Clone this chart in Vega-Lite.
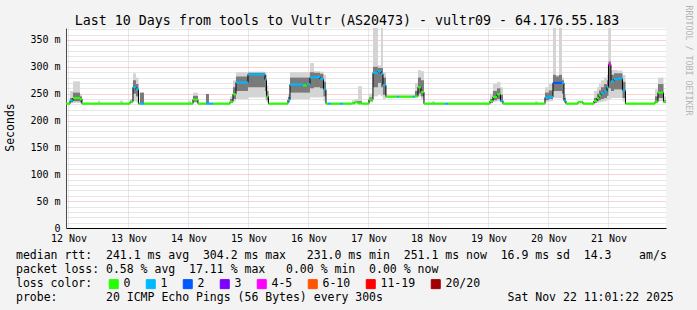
{
  "$schema": "https://vega.github.io/schema/vega-lite/v6.json",
  "width": 600,
  "height": 200,
  "autosize": "none",
  "padding": {"left": 66, "top": 28, "right": 31, "bottom": 82},
  "background": "#f3f3f3",
  "view": {"fill": "white", "stroke": null},
  "config": {"font": "DejaVu Sans Mono"},
  "title": {"text": "Last 10 Days from tools to Vultr (AS20473) - vultr09 - 64.176.55.183", "font": "DejaVu Sans Mono", "fontSize": 13.3, "fontWeight": "normal", "color": "#000000", "anchor": "middle", "dx": -19, "offset": -19, "dy": 14, "baseline": "alphabetic"},
  "data": {"values": [
    {"s":11.02,"e":12.6,"med":231.5,"lo":231,"hi":232.5,"q1":231,"q3":232,"loss":"0"},
    {"s":12.6,"e":13.8,"med":237,"lo":232,"hi":255,"q1":234,"q3":242,"loss":"1"},
    {"s":13.8,"e":16.6,"med":242,"lo":233,"hi":273,"q1":236,"q3":252,"loss":"0"},
    {"s":16.6,"e":17.4,"med":240,"lo":232,"hi":250,"q1":234,"q3":245,"loss":"0"},
    {"s":17.4,"e":23.8,"med":231.5,"lo":231,"hi":232.5,"q1":231,"q3":232,"loss":"0"},
    {"s":23.8,"e":24.6,"med":231.5,"lo":231,"hi":237,"q1":231,"q3":232,"loss":"0"},
    {"s":24.6,"e":32.6,"med":231.5,"lo":231,"hi":232.5,"q1":231,"q3":232,"loss":"0"},
    {"s":32.6,"e":33.8,"med":231.5,"lo":231,"hi":237,"q1":231,"q3":232,"loss":"0"},
    {"s":33.8,"e":36.6,"med":231.5,"lo":231,"hi":232.5,"q1":231,"q3":232,"loss":"0"},
    {"s":36.6,"e":37.8,"med":235,"lo":232,"hi":240,"q1":233,"q3":237,"loss":"0"},
    {"s":37.8,"e":39.0,"med":262,"lo":236,"hi":288,"q1":250,"q3":275,"loss":"1"},
    {"s":39.0,"e":40.0,"med":258,"lo":234,"hi":280,"q1":245,"q3":268,"loss":"1"},
    {"s":40.0,"e":40.6,"med":231.5,"lo":231,"hi":232.5,"q1":231,"q3":232,"loss":"0"},
    {"s":40.6,"e":42.2,"med":231.5,"lo":231,"hi":252,"q1":231,"q3":252,"loss":"1"},
    {"s":42.2,"e":59.8,"med":231.5,"lo":231,"hi":232.5,"q1":231,"q3":232,"loss":"0"},
    {"s":59.8,"e":61.0,"med":231.5,"lo":231,"hi":237,"q1":231,"q3":232,"loss":"0"},
    {"s":61.0,"e":61.8,"med":231.5,"lo":231,"hi":232.5,"q1":231,"q3":232,"loss":"0"},
    {"s":61.8,"e":63.8,"med":239,"lo":233,"hi":252,"q1":235,"q3":246,"loss":"0"},
    {"s":63.8,"e":67.0,"med":231.5,"lo":231,"hi":232.5,"q1":231,"q3":232,"loss":"0"},
    {"s":67.0,"e":68.2,"med":231.5,"lo":231,"hi":249.5,"q1":231,"q3":249.5,"loss":"1"},
    {"s":68.2,"e":69.8,"med":231.5,"lo":231,"hi":232.5,"q1":231,"q3":232,"loss":"1"},
    {"s":69.8,"e":76.6,"med":231.5,"lo":231,"hi":232.5,"q1":231,"q3":232,"loss":"0"},
    {"s":76.6,"e":77.8,"med":235,"lo":232,"hi":245,"q1":233,"q3":240,"loss":"0"},
    {"s":77.8,"e":79.0,"med":249,"lo":236,"hi":275,"q1":240,"q3":262,"loss":"0"},
    {"s":79.0,"e":83.8,"med":271,"lo":240,"hi":290,"q1":255,"q3":282,"loss":"1"},
    {"s":83.8,"e":90.6,"med":286,"lo":243,"hi":291,"q1":262,"q3":289,"loss":"1"},
    {"s":90.6,"e":91.2,"med":276,"lo":240,"hi":290,"q1":255,"q3":285,"loss":"1"},
    {"s":91.2,"e":92.0,"med":245,"lo":234,"hi":265,"q1":238,"q3":255,"loss":"0"},
    {"s":92.0,"e":99.8,"med":231.5,"lo":231,"hi":232.5,"q1":231,"q3":232,"loss":"0"},
    {"s":99.8,"e":100.6,"med":238,"lo":233,"hi":250,"q1":235,"q3":244,"loss":"1"},
    {"s":100.6,"e":105.8,"med":267,"lo":240,"hi":290,"q1":252,"q3":280,"loss":"1"},
    {"s":105.8,"e":107.4,"med":265.5,"lo":240,"hi":290,"q1":252,"q3":280,"loss":"0"},
    {"s":107.4,"e":108.6,"med":268,"lo":240,"hi":290,"q1":252,"q3":280,"loss":"1"},
    {"s":108.6,"e":110.2,"med":280,"lo":243,"hi":307,"q1":260,"q3":290,"loss":"1"},
    {"s":110.2,"e":112.6,"med":281,"lo":243,"hi":292,"q1":262,"q3":289,"loss":"1"},
    {"s":112.6,"e":114.0,"med":277,"lo":243,"hi":291,"q1":260,"q3":287,"loss":"1"},
    {"s":114.0,"e":115.0,"med":258,"lo":236,"hi":285,"q1":245,"q3":272,"loss":"1"},
    {"s":115.0,"e":115.8,"med":231.5,"lo":231,"hi":232.5,"q1":231,"q3":232,"loss":"0"},
    {"s":115.8,"e":117.0,"med":231.5,"lo":231,"hi":232.5,"q1":231,"q3":232,"loss":"1"},
    {"s":117.0,"e":120.6,"med":231.5,"lo":231,"hi":232.5,"q1":231,"q3":232,"loss":"0"},
    {"s":120.6,"e":121.8,"med":231.5,"lo":231,"hi":232.5,"q1":231,"q3":232,"loss":"1"},
    {"s":121.8,"e":125.4,"med":231.5,"lo":231,"hi":232.5,"q1":231,"q3":232,"loss":"0"},
    {"s":125.4,"e":126.6,"med":232,"lo":231,"hi":238,"q1":231.5,"q3":233,"loss":"0"},
    {"s":126.6,"e":127.8,"med":234.5,"lo":232,"hi":240,"q1":233,"q3":236,"loss":"0"},
    {"s":127.8,"e":129.4,"med":232,"lo":231,"hi":264,"q1":231.5,"q3":236,"loss":"0"},
    {"s":129.4,"e":132.2,"med":231.5,"lo":231,"hi":232.5,"q1":231,"q3":232,"loss":"0"},
    {"s":132.2,"e":133.8,"med":239,"lo":234,"hi":250,"q1":236,"q3":243,"loss":"0"},
    {"s":133.8,"e":135.8,"med":289,"lo":245,"hi":380,"q1":262,"q3":300,"loss":"1"},
    {"s":135.8,"e":137.0,"med":292,"lo":248,"hi":303,"q1":270,"q3":298,"loss":"1"},
    {"s":137.0,"e":137.8,"med":287,"lo":245,"hi":380,"q1":262,"q3":298,"loss":"1"},
    {"s":137.8,"e":139.0,"med":266,"lo":240,"hi":290,"q1":248,"q3":280,"loss":"1"},
    {"s":139.0,"e":143.4,"med":244.5,"lo":243,"hi":246.5,"q1":244,"q3":245.5,"loss":"0"},
    {"s":143.4,"e":144.2,"med":244.5,"lo":243,"hi":246.5,"q1":244,"q3":245.5,"loss":"1"},
    {"s":144.2,"e":149.8,"med":244.5,"lo":243,"hi":246.5,"q1":244,"q3":245.5,"loss":"0"},
    {"s":149.8,"e":150.6,"med":244.5,"lo":243,"hi":246.5,"q1":244,"q3":245.5,"loss":"1"},
    {"s":150.6,"e":151.8,"med":245,"lo":243,"hi":270,"q1":244,"q3":255,"loss":"0"},
    {"s":151.8,"e":153.0,"med":262,"lo":245,"hi":294,"q1":250,"q3":280,"loss":"0"},
    {"s":153.0,"e":154.2,"med":253,"lo":240,"hi":292,"q1":245,"q3":275,"loss":"0"},
    {"s":154.2,"e":157.4,"med":231.5,"lo":231,"hi":232.5,"q1":231,"q3":232,"loss":"0"},
    {"s":157.4,"e":158.6,"med":231.5,"lo":231,"hi":236,"q1":231,"q3":232,"loss":"0"},
    {"s":158.6,"e":162.6,"med":231.5,"lo":231,"hi":232.5,"q1":231,"q3":232,"loss":"0"},
    {"s":162.6,"e":163.8,"med":231.5,"lo":231,"hi":232.5,"q1":231,"q3":232,"loss":"1"},
    {"s":163.8,"e":180.6,"med":231.5,"lo":231,"hi":232.5,"q1":231,"q3":232,"loss":"0"},
    {"s":180.6,"e":181.8,"med":236,"lo":232,"hi":250,"q1":233,"q3":240,"loss":"0"},
    {"s":181.8,"e":183.4,"med":244,"lo":235,"hi":268,"q1":238,"q3":255,"loss":"0"},
    {"s":183.4,"e":184.8,"med":249,"lo":236,"hi":272,"q1":240,"q3":260,"loss":"0"},
    {"s":184.8,"e":185.8,"med":237,"lo":233,"hi":262,"q1":235,"q3":248,"loss":"1"},
    {"s":185.8,"e":198.6,"med":231.5,"lo":231,"hi":232.5,"q1":231,"q3":232,"loss":"0"},
    {"s":198.6,"e":199.8,"med":231.5,"lo":231,"hi":236,"q1":231,"q3":232,"loss":"0"},
    {"s":199.8,"e":202.6,"med":231.5,"lo":231,"hi":232.5,"q1":231,"q3":232,"loss":"0"},
    {"s":202.6,"e":204.2,"med":243,"lo":235,"hi":262,"q1":238,"q3":252,"loss":"1"},
    {"s":204.2,"e":205.8,"med":244,"lo":236,"hi":268,"q1":240,"q3":256,"loss":"1"},
    {"s":205.8,"e":207.0,"med":270,"lo":242,"hi":380,"q1":255,"q3":285,"loss":"2"},
    {"s":207.0,"e":208.2,"med":270,"lo":242,"hi":285,"q1":255,"q3":282,"loss":"2"},
    {"s":208.2,"e":209.4,"med":270,"lo":242,"hi":380,"q1":255,"q3":285,"loss":"2"},
    {"s":209.4,"e":210.2,"med":270,"lo":240,"hi":280,"q1":250,"q3":275,"loss":"1"},
    {"s":210.2,"e":211.0,"med":237,"lo":233,"hi":250,"q1":234,"q3":242,"loss":"1"},
    {"s":211.0,"e":215.8,"med":231.5,"lo":231,"hi":232.5,"q1":231,"q3":232,"loss":"0"},
    {"s":215.8,"e":217.8,"med":234.5,"lo":232,"hi":237,"q1":233,"q3":236,"loss":"0"},
    {"s":217.8,"e":222.2,"med":231.5,"lo":231,"hi":232.5,"q1":231,"q3":232,"loss":"0"},
    {"s":222.2,"e":223.4,"med":236.5,"lo":232,"hi":255,"q1":233,"q3":242,"loss":"0"},
    {"s":223.4,"e":224.2,"med":242,"lo":233,"hi":262,"q1":236,"q3":250,"loss":"0"},
    {"s":224.2,"e":225.0,"med":246.5,"lo":234,"hi":268,"q1":238,"q3":256,"loss":"0"},
    {"s":225.0,"e":226.2,"med":251,"lo":235,"hi":275,"q1":240,"q3":262,"loss":"1"},
    {"s":226.2,"e":227.4,"med":254,"lo":236,"hi":280,"q1":242,"q3":268,"loss":"1"},
    {"s":227.4,"e":228.0,"med":262,"lo":238,"hi":285,"q1":246,"q3":275,"loss":"1"},
    {"s":228.0,"e":229.0,"med":304.2,"lo":240,"hi":380,"q1":260,"q3":310,"loss":"4-5"},
    {"s":229.0,"e":230.2,"med":273,"lo":242,"hi":294,"q1":255,"q3":285,"loss":"1"},
    {"s":230.2,"e":231.8,"med":277,"lo":242,"hi":294,"q1":258,"q3":288,"loss":"1"},
    {"s":231.8,"e":233.6,"med":278,"lo":242,"hi":293,"q1":258,"q3":288,"loss":"1"},
    {"s":233.6,"e":234.8,"med":256,"lo":236,"hi":285,"q1":242,"q3":272,"loss":"1"},
    {"s":234.8,"e":246.6,"med":231.5,"lo":231,"hi":232.5,"q1":231,"q3":232,"loss":"0"},
    {"s":246.6,"e":247.8,"med":235,"lo":232,"hi":258,"q1":233,"q3":245,"loss":"0"},
    {"s":247.8,"e":250.0,"med":252,"lo":236,"hi":280,"q1":242,"q3":268,"loss":"0"},
    {"s":250.0,"e":251.02,"med":235,"lo":232,"hi":245,"q1":233,"q3":238,"loss":"0"}
  ]},
  "resolve": {"axis": {"y": "independent"}},
  "layer": [
    {
      "mark": {"type": "rect", "color": "#d4d4d4", "clip": true},
      "encoding": {
        "x": {"field": "s", "type": "quantitative",
          "scale": {"domain": [11.0167, 251.0167], "nice": false, "zero": false},
          "axis": {
            "values": [12,18,24,30,36,42,48,54,60,66,72,78,84,90,96,102,108,114,120,126,132,138,144,150,156,162,168,174,180,186,192,198,204,210,216,222,228,234,240,246],
            "labelExpr": "datum.value % 24 == 12 ? (12 + floor(datum.value / 24)) + ' Nov' : ''",
            "labelFlush": false, "labelOverlap": false, "labelFontSize": 10, "labelColor": "#000000",
            "labelBaseline": "alphabetic", "labelPadding": 10, "labelAngle": 0,
            "tickSize": 3, "tickWidth": 1,
            "tickColor": {"condition": {"test": "datum.value % 24 == 0", "value": "#f08080"}, "value": "transparent"},
            "gridColor": {"condition": {"test": "datum.value % 24 == 0", "value": "#f4a0a0"}, "value": "#cfcfcf"},
            "gridDash": [1, 1], "gridWidth": 1, "gridOpacity": 1,
            "domainColor": "#000000", "domainWidth": 1,
            "title": [
              "median rtt:\u00a0\u00a0241.1 ms avg\u00a0\u00a0304.2 ms max\u00a0\u00a0\u00a0231.0 ms min\u00a0\u00a0251.1 ms now\u00a0\u00a016.9 ms sd\u00a0\u00a014.3\u00a0\u00a0\u00a0\u00a0am/s",
              "packet loss: 0.58 % avg\u00a0\u00a017.11 % max\u00a0\u00a0\u00a00.00 % min\u00a0\u00a00.00 % now",
              "loss color:",
              "probe:\u00a0\u00a0\u00a0\u00a0\u00a0\u00a0\u00a020 ICMP Echo Pings (56 Bytes) every 300s\u00a0\u00a0\u00a0\u00a0\u00a0\u00a0\u00a0\u00a0\u00a0\u00a0\u00a0\u00a0\u00a0\u00a0\u00a0\u00a0\u00a0\u00a0Sat Nov 22 11:01:22 2025"
            ],
            "titleFontSize": 11.5, "titleFontWeight": "normal", "titleColor": "#000000",
            "titleAlign": "left", "titleAnchor": "start", "titleBaseline": "alphabetic",
            "titleX": -50.5, "titleY": 30, "titleLineHeight": 14, "titleAngle": 0
          }
        },
        "x2": {"field": "e"},
        "y": {"field": "lo", "type": "quantitative",
          "scale": {"domain": [0, 372.3], "nice": false, "zero": true},
          "axis": {
            "values": [0,10,20,30,40,50,60,70,80,90,100,110,120,130,140,150,160,170,180,190,200,210,220,230,240,250,260,270,280,290,300,310,320,330,340,350,360,370],
            "labelExpr": "datum.value % 50 == 0 ? (datum.value == 0 ? '0' : datum.value + ' m') : ''",
            "labelOverlap": false, "labelFontSize": 10, "labelColor": "#000000", "labelPadding": 6,
            "labelBaseline": "middle", "labelFlush": false,
            "ticks": false,
            "gridColor": {"condition": {"test": "datum.value % 50 == 0", "value": "#f4a0a0"}, "value": "#cfcfcf"},
            "gridDash": [1, 1], "gridWidth": 1, "gridOpacity": 1,
            "domainColor": "#4a4a4a", "domainWidth": 1,
            "title": "Seconds", "titleFontSize": 11.5, "titleFontWeight": "normal", "titleColor": "#000000",
            "titleAngle": 270, "titleX": -52.5, "titleY": 99, "titleAlign": "center", "titleBaseline": "alphabetic"
          }
        },
        "y2": {"field": "hi"}
      }
    },
    {
      "mark": {"type": "rect", "color": "#7a7a7a", "clip": true},
      "encoding": {
        "x": {"field": "s", "type": "quantitative"},
        "x2": {"field": "e"},
        "y": {"field": "q1", "type": "quantitative", "axis": null},
        "y2": {"field": "q3"}
      }
    },
    {
      "mark": {"type": "line", "color": "#000000", "strokeWidth": 1, "interpolate": "step-after", "clip": true},
      "encoding": {
        "x": {"field": "s", "type": "quantitative"},
        "y": {"field": "med", "type": "quantitative", "axis": null}
      }
    },
    {
      "mark": {"type": "rule", "strokeWidth": 2.2, "clip": true},
      "encoding": {
        "x": {"field": "s", "type": "quantitative"},
        "x2": {"field": "e"},
        "y": {"field": "med", "type": "quantitative",
          "axis": {"orient": "right", "labels": false, "ticks": false, "domain": false, "grid": false,
            "title": "RRDTOOL / TOBI OETIKER", "titleAngle": 90, "titleFontSize": 8.3, "titleFontWeight": "normal",
            "titleColor": "#b4b4b4", "titleX": 19, "titleY": 32, "titleAlign": "center", "titleBaseline": "alphabetic"}
        },
        "color": {"field": "loss", "type": "nominal",
          "scale": {"domain": ["0","1","2","3","4-5","6-10","11-19","20/20"],
                    "range": ["#26ff00","#00b8ff","#0059ff","#7e00ff","#ff00ff","#ff5500","#ff0000","#a10000"]},
          "legend": {
            "orient": "none", "legendX": 42, "legendY": 250, "direction": "horizontal", "columns": 8,
            "title": null,
            "labelFontSize": 11.5, "labelColor": "#000000", "labelOffset": 4, "columnPadding": 13,
            "symbolType": "square", "symbolSize": 81, "symbolStrokeColor": "#000000", "symbolStrokeWidth": 1,
            "padding": 0, "rowPadding": 0,
            "encode": {"symbols": {"update": {"fill": {"scale": "color", "field": "value"}, "fillOpacity": {"value": 1}, "stroke": {"value": "#000000"}, "strokeWidth": {"value": 1}, "shape": {"value": "square"}}}}
          }
        }
      }
    }
  ]
}
